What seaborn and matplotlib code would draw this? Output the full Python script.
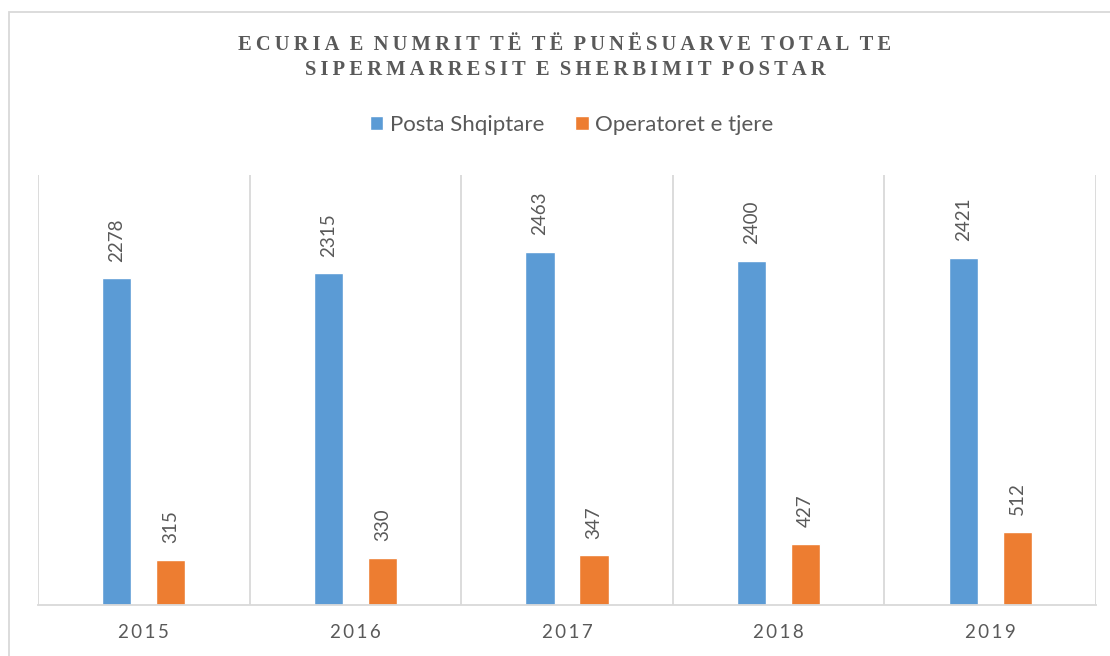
import matplotlib
matplotlib.use('Agg')
import pandas as pd
import seaborn as sns
import matplotlib.pyplot as plt
from matplotlib.patches import Rectangle, Patch

# Data
years = ['2015', '2016', '2017', '2018', '2019']
posta_shqiptare = [2278, 2315, 2463, 2400, 2421]
operatoret_tjere = [315, 330, 347, 427, 512]
series_names = ['Posta Shqiptare', 'Operatoret e tjere']
title_lines = ['ECURIA E NUMRIT TË TË PUNËSUARVE TOTAL TE',
               'SIPERMARRESIT E SHERBIMIT POSTAR']

df = pd.DataFrame({
    'Viti': years * 2,
    'Seria': [series_names[0]] * len(years) + [series_names[1]] * len(years),
    'Vlera': posta_shqiptare + operatoret_tjere,
})

sns.set_theme(style='white')
plt.rcParams['font.family'] = ['Lato', 'DejaVu Sans']

grey = '#595959'
line_grey = '#d9d9d9'
colors = ['#5B9BD5', '#ED7D31']


def spaced(s, sep='\u200a'):
    return sep.join(s)


fig = plt.figure(figsize=(11.1, 6.56), dpi=100)
ax = fig.add_axes([38 / 1110, 51 / 656, (1096 - 38) / 1110, (605 - 175) / 656])

sns.barplot(data=df, x='Viti', y='Vlera', hue='Seria', order=years,
            hue_order=series_names, palette=colors, saturation=1,
            width=0.51, gap=0.46, ax=ax, legend=False)

for cont in ax.containers:
    ax.bar_label(cont, rotation=90, padding=12, color=grey, fontsize=13.5)

ax.set_ylim(0, 3000)
ax.set_xlim(-0.5, len(years) - 0.5)
ax.set_yticks([])
ax.set_xlabel('')
ax.set_ylabel('')

# category separators
ax.set_xticks([i - 0.5 for i in range(len(years) + 1)], minor=True)
ax.grid(True, which='minor', axis='x', color=line_grey, linewidth=1.3)
ax.set_xticks(range(len(years)))
ax.set_xticklabels([spaced(y, '\u2009') for y in years], color=grey, fontsize=13.5)
ax.tick_params(axis='x', which='both', length=0, pad=14)

for side in ['top', 'left', 'right']:
    ax.spines[side].set_visible(False)
ax.spines['bottom'].set_color(line_grey)
ax.spines['bottom'].set_linewidth(1.3)

# title
for i, line in enumerate(title_lines):
    words = [spaced(w, '\u2009') for w in line.split(' ')]
    fig.text(0.509, 1 - (45 + 25 * i) / 656, '\u2002'.join(words),
             ha='center', va='center', fontsize=14.8, fontweight='bold',
             color=grey, family=['Liberation Serif', 'DejaVu Serif'])

# legend
handles = [Patch(facecolor=c, label=n) for c, n in zip(colors, series_names)]
fig.legend(handles=handles, loc='center', bbox_to_anchor=(0.515, 1 - 125 / 656),
           ncol=2, frameon=False, fontsize=16, handlelength=0.6, handleheight=0.6,
           handletextpad=0.3, columnspacing=1.4, labelcolor=grey)

# outer chart border
fig.patches.append(Rectangle((9 / 1110, -0.1), 1.2, 1 - 12 / 656 + 0.1,
                             transform=fig.transFigure, fill=False,
                             edgecolor=line_grey, linewidth=1.3))

fig.savefig('out.png', dpi=100)
